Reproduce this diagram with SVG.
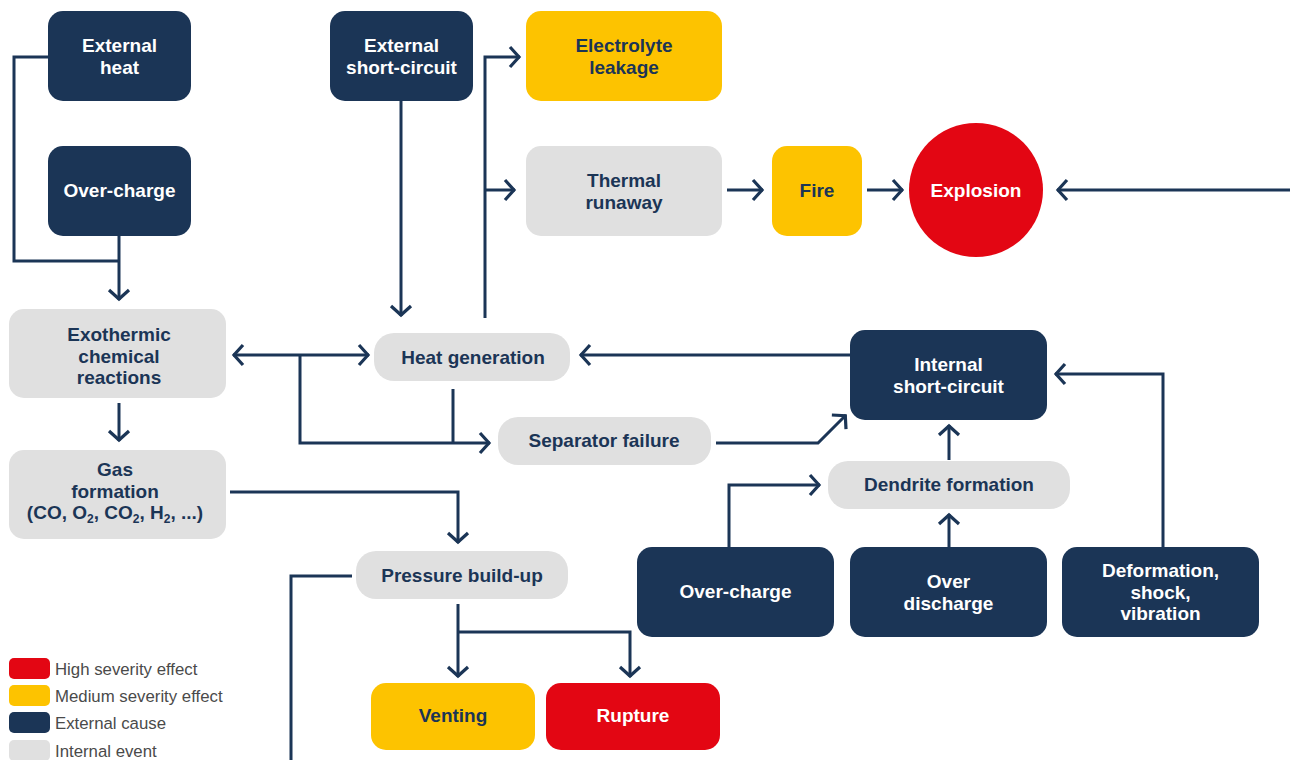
<svg xmlns="http://www.w3.org/2000/svg" width="1290" height="760" viewBox="0 0 1290 760">
<style>
.n{fill:#1b3556}.y{fill:#fdc300}.r{fill:#e30613}.g{fill:#e0e0e0}
text{font-family:"Liberation Sans",Arial,sans-serif;font-weight:700;font-size:19px;text-anchor:middle}
.tw{fill:#ffffff}.tn{fill:#1b3556}
.c path{fill:none;stroke:#1b3556;stroke-width:3}
.lg{font-size:16.8px;font-weight:400;text-anchor:start;fill:#4a4a4a}
</style>
<defs>
<marker id="a" markerUnits="userSpaceOnUse" markerWidth="30" markerHeight="30" viewBox="-15 -15 30 30" refX="0" refY="0" orient="auto-start-reverse">
<path d="M-10,-10 L-1,0 L-10,10" fill="none" stroke="#1b3556" stroke-width="3.2"/>
</marker>
</defs>
<g class="c">
<path d="M48,57 H14 V261 H119"/>
<path d="M119,236 V300" marker-end="url(#a)"/>
<path d="M401,101 V316" marker-end="url(#a)"/>
<path d="M485,318 V57 H520" marker-end="url(#a)"/>
<path d="M485,190 H515" marker-end="url(#a)"/>
<path d="M727,190 H763" marker-end="url(#a)"/>
<path d="M867,190 H903" marker-end="url(#a)"/>
<path d="M1290,190 H1057" marker-end="url(#a)"/>
<path d="M233,355 H369" marker-start="url(#a)" marker-end="url(#a)"/>
<path d="M300,355 V443 H490" marker-end="url(#a)"/>
<path d="M453,389 V443"/>
<path d="M850,355 H580" marker-end="url(#a)"/>
<path d="M716,443 H818 L846,415" marker-end="url(#a)"/>
<path d="M949,460 V425" marker-end="url(#a)"/>
<path d="M729,547 V485 H820" marker-end="url(#a)"/>
<path d="M949,547 V514" marker-end="url(#a)"/>
<path d="M1163,547 V374 H1055" marker-end="url(#a)"/>
<path d="M119,403 V441" marker-end="url(#a)"/>
<path d="M230,492 H458 V543" marker-end="url(#a)"/>
<path d="M352,576 H291 V760"/>
<path d="M458,604 V677" marker-end="url(#a)"/>
<path d="M458,632 H630 V677" marker-end="url(#a)"/>
</g>
<g id="external-heat"><rect class="n" x="48" y="11" width="143" height="90" rx="15"/><text class="tw" x="119.5" y="52">External</text><text class="tw" x="119.5" y="73.5">heat</text></g>
<g id="over-charge-left"><rect class="n" x="48" y="146" width="143" height="90" rx="15"/><text class="tw" x="119.5" y="197">Over-charge</text></g>
<g id="external-short-circuit"><rect class="n" x="330" y="11" width="143" height="90" rx="15"/><text class="tw" x="401.5" y="52">External</text><text class="tw" x="401.5" y="73.5">short-circuit</text></g>
<g id="electrolyte-leakage"><rect class="y" x="526" y="11" width="196" height="90" rx="15"/><text class="tn" x="624" y="52">Electrolyte</text><text class="tn" x="624" y="73.5">leakage</text></g>
<g id="thermal-runaway"><rect class="g" x="526" y="146" width="196" height="90" rx="15"/><text class="tn" x="624" y="187">Thermal</text><text class="tn" x="624" y="208.5">runaway</text></g>
<g id="fire"><rect class="y" x="772" y="146" width="90" height="90" rx="15"/><text class="tn" x="817" y="197">Fire</text></g>
<g id="explosion"><circle class="r" cx="976" cy="190" r="67"/><text class="tw" x="976" y="197">Explosion</text></g>
<g id="exothermic"><rect class="g" x="9" y="309" width="217" height="89" rx="15"/><text class="tn" x="119" y="341">Exothermic</text><text class="tn" x="119" y="362.5">chemical</text><text class="tn" x="119" y="384">reactions</text></g>
<g id="heat-generation"><rect class="g" x="374" y="333" width="196" height="48" rx="20"/><text class="tn" x="473" y="364">Heat generation</text></g>
<g id="internal-short-circuit"><rect class="n" x="850" y="330" width="197" height="90" rx="15"/><text class="tw" x="948.5" y="371">Internal</text><text class="tw" x="948.5" y="392.5">short-circuit</text></g>
<g id="separator-failure"><rect class="g" x="498" y="417" width="213" height="48" rx="20"/><text class="tn" x="604" y="447">Separator failure</text></g>
<g id="dendrite-formation"><rect class="g" x="828" y="461" width="242" height="48" rx="20"/><text class="tn" x="949" y="491">Dendrite formation</text></g>
<g id="gas-formation"><rect class="g" x="9" y="450" width="217" height="89" rx="15"/><text class="tn" x="115" y="476">Gas</text><text class="tn" x="115" y="497.5">formation</text><text class="tn" x="115" y="519">(CO, O<tspan font-size="12" dy="4">2</tspan><tspan dy="-4">, CO</tspan><tspan font-size="12" dy="4">2</tspan><tspan dy="-4">, H</tspan><tspan font-size="12" dy="4">2</tspan><tspan dy="-4">, ...)</tspan></text></g>
<g id="pressure-build-up"><rect class="g" x="356" y="551" width="212" height="48" rx="20"/><text class="tn" x="462" y="582">Pressure build-up</text></g>
<g id="over-charge-right"><rect class="n" x="637" y="547" width="197" height="90" rx="15"/><text class="tw" x="735.5" y="598">Over-charge</text></g>
<g id="over-discharge"><rect class="n" x="850" y="547" width="197" height="90" rx="15"/><text class="tw" x="948.5" y="588">Over</text><text class="tw" x="948.5" y="609.5">discharge</text></g>
<g id="deformation"><rect class="n" x="1062" y="547" width="197" height="90" rx="15"/><text class="tw" x="1160.5" y="577">Deformation,</text><text class="tw" x="1160.5" y="598.5">shock,</text><text class="tw" x="1160.5" y="620">vibration</text></g>
<g id="venting"><rect class="y" x="371" y="683" width="164" height="67" rx="15"/><text class="tn" x="453" y="722">Venting</text></g>
<g id="rupture"><rect class="r" x="546" y="683" width="174" height="67" rx="15"/><text class="tw" x="633" y="722">Rupture</text></g>
<g id="legend">
<rect class="r" x="9" y="658" width="41" height="21" rx="5"/><text class="lg" x="55" y="675">High severity effect</text>
<rect class="y" x="9" y="685" width="41" height="21" rx="5"/><text class="lg" x="55" y="702">Medium severity effect</text>
<rect class="n" x="9" y="712" width="41" height="21" rx="5"/><text class="lg" x="55" y="729">External cause</text>
<rect class="g" x="9" y="740" width="41" height="21" rx="5"/><text class="lg" x="55" y="757">Internal event</text>
</g>
</svg>
